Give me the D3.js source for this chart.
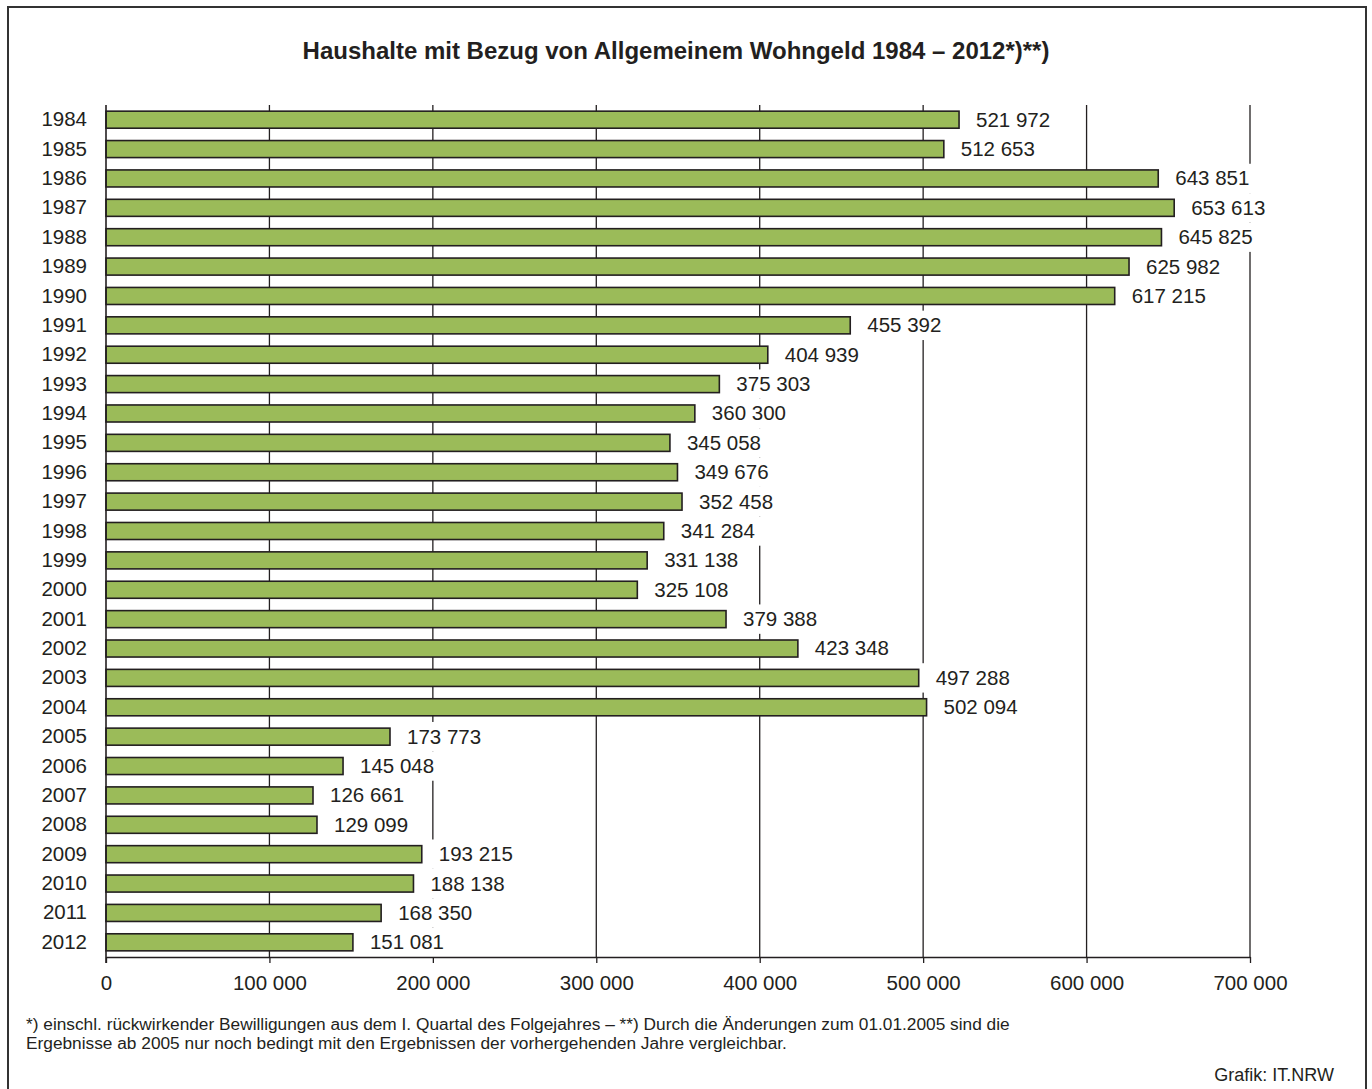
<!DOCTYPE html>
<html>
<head>
<meta charset="utf-8">
<script src="https://cdn.jsdelivr.net/npm/d3@7"></script>
<style>
  body { margin: 0; background: #fff; }
  svg text { font-family: "Liberation Sans", Arial, sans-serif; fill: #231f20; }
</style>
</head>
<body>
<div id="chart"></div>
<script>
// Daten
var years = ['1984','1985','1986','1987','1988','1989','1990','1991','1992','1993','1994','1995','1996','1997','1998','1999','2000','2001','2002','2003','2004','2005','2006','2007','2008','2009','2010','2011','2012'];
var households = [521972, 512653, 643851, 653613, 645825, 625982, 617215, 455392, 404939, 375303, 360300, 345058, 349676, 352458, 341284, 331138, 325108, 379388, 423348, 497288, 502094, 173773, 145048, 126661, 129099, 193215, 188138, 168350, 151081];
var xTicks = [0, 100000, 200000, 300000, 400000, 500000, 600000, 700000];
var title = 'Haushalte mit Bezug von Allgemeinem Wohngeld 1984 \u2013 2012*)**)';
var footnote = [
  '*) einschl. r\u00fcckwirkender Bewilligungen aus dem I. Quartal des Folgejahres \u2013 **) Durch die \u00c4nderungen zum 01.01.2005 sind die',
  'Ergebnisse ab 2005 nur noch bedingt mit den Ergebnissen der vorhergehenden Jahre vergleichbar.'
];
var source = 'Grafik: IT.NRW';

var W = 1372, H = 1089;
var plot = { left: 106, right: 1250, top: 105, bottom: 957 };
var lineColor = '#231f20';
var fontSize = '20.5px';

// Zahlen mit Leerzeichen als Tausendertrenner
var fmt = function(v){
  return d3.format(',')(v).replace(/,/g, ' ');
};

var svg = d3.select('#chart').append('svg')
  .attr('width', W)
  .attr('height', H);

svg.append('rect')
  .attr('x', 8).attr('y', 7)
  .attr('width', 1358).attr('height', 1100)
  .attr('fill', '#fff')
  .attr('stroke', '#333')
  .attr('stroke-width', 2);

svg.append('text')
  .attr('x', 676).attr('y', 59)
  .attr('text-anchor', 'middle')
  .attr('font-size', '24px')
  .attr('font-weight', 'bold')
  .text(title);

var x = d3.scaleLinear().domain([0, 700000]).range([plot.left, plot.right]);
var y = d3.scaleBand().domain(years).range([plot.top, plot.bottom]).paddingInner(0.42).paddingOuter(0.21);
var step = y.step();

// Gitternetz
var grid = svg.append('g');
grid.selectAll('line')
  .data(xTicks.slice(1))
  .enter().append('line')
  .attr('x1', function(d){ return x(d); })
  .attr('x2', function(d){ return x(d); })
  .attr('y1', plot.top)
  .attr('y2', plot.bottom)
  .attr('stroke', lineColor)
  .attr('stroke-width', 1.3);

// weisse Hintergruende der Beschriftungen (verdecken das Gitter)
var labels = svg.append('g').selectAll('g')
  .data(years)
  .enter().append('g');

labels.append('rect')
  .attr('fill', '#fff');

labels.append('text')
  .attr('x', function(d, i){ return x(households[i]) + 17; })
  .attr('y', function(d){ return y(d) + y.bandwidth() / 2; })
  .attr('dy', '0.34em')
  .attr('font-size', fontSize)
  .text(function(d, i){ return fmt(households[i]); });

labels.each(function(d, i){
  var g = d3.select(this);
  var bb = g.select('text').node().getBBox();
  var x0 = x(households[i]);
  var yc = y(d) + y.bandwidth() / 2;
  g.select('rect')
    .attr('x', x0)
    .attr('y', yc - step / 2)
    .attr('width', bb.x + bb.width + 9 - x0)
    .attr('height', step);
});

// Balken
svg.append('g').selectAll('rect')
  .data(years)
  .enter().append('rect')
  .attr('x', x(0))
  .attr('y', function(d){ return y(d); })
  .attr('width', function(d, i){ return x(households[i]) - x(0); })
  .attr('height', y.bandwidth())
  .attr('fill', '#9bbb59')
  .attr('stroke', lineColor)
  .attr('stroke-width', 1.6);

// Achsen
var xAxis = d3.axisBottom(x)
  .tickValues(xTicks)
  .tickSize(6)
  .tickSizeOuter(0)
  .tickPadding(12)
  .tickFormat(fmt);

var gx = svg.append('g')
  .attr('transform', 'translate(0,' + plot.bottom + ')')
  .call(xAxis);
gx.select('.domain').attr('stroke', lineColor).attr('stroke-width', 1.3);
gx.selectAll('.tick line').attr('stroke', lineColor).attr('stroke-width', 1.3);
gx.selectAll('.tick text')
  .attr('font-size', fontSize)
  .attr('font-family', '"Liberation Sans", Arial, sans-serif')
  .attr('fill', '#231f20');

var yAxis = d3.axisLeft(y).tickSize(0).tickPadding(19);
var gy = svg.append('g')
  .attr('transform', 'translate(' + plot.left + ',0)')
  .call(yAxis);
gy.select('.domain').remove();
gy.selectAll('.tick text')
  .attr('font-size', fontSize)
  .attr('font-family', '"Liberation Sans", Arial, sans-serif')
  .attr('fill', '#231f20');

svg.append('line')
  .attr('x1', plot.left).attr('x2', plot.left)
  .attr('y1', plot.top).attr('y2', plot.bottom + 6)
  .attr('stroke', lineColor)
  .attr('stroke-width', 1.6);

// Fussnoten
svg.append('g').selectAll('text')
  .data(footnote)
  .enter().append('text')
  .attr('x', 26)
  .attr('y', function(d, i){ return 1030 + i * 19; })
  .attr('font-size', '17.3px')
  .text(function(d){ return d; });

svg.append('text')
  .attr('x', 1334).attr('y', 1081)
  .attr('text-anchor', 'end')
  .attr('font-size', '18px')
  .text(source);
</script>
</body>
</html>
